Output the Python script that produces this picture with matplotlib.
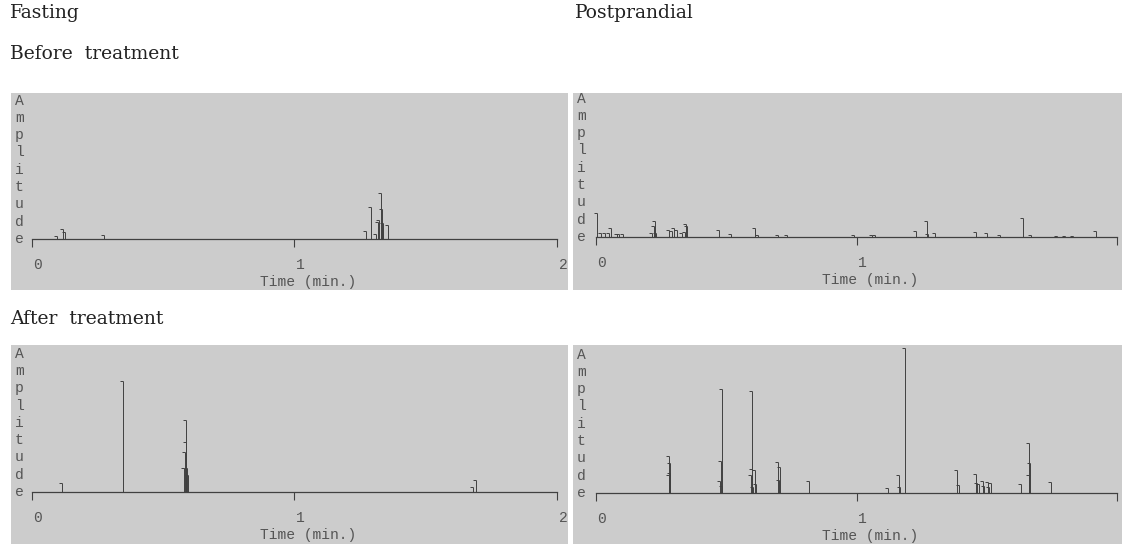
# chromatogram-style peak plots: fasting / postprandial, before / after treatment
import matplotlib
matplotlib.use("Agg")
import matplotlib.pyplot as plt

# peak times (min) and amplitudes (arbitrary units, A-label ~ 96)
fast_before_t = [0.095, 0.118, 0.125, 0.275, 1.272, 1.291, 1.310, 1.318, 1.322, 1.330, 1.333, 1.336, 1.357]
fast_before_h = [2.4, 7.0, 4.7, 3.0, 5.4, 22, 3.5, 12, 13, 32, 21, 11, 9.4]

post_before_t = [0.003, 0.02, 0.035, 0.05, 0.058, 0.08, 0.09, 0.105, 0.215, 0.222, 0.227, 0.232,
                 0.28, 0.29, 0.30, 0.31, 0.33, 0.34, 0.345, 0.35, 0.473, 0.52, 0.612, 0.62,
                 0.70, 0.735, 0.99, 1.06, 1.07, 1.23, 1.27, 1.275, 1.30, 1.46, 1.50, 1.55,
                 1.64, 1.67, 1.77, 1.80, 1.83, 1.92]
post_before_h = [17, 2.5, 3.0, 2.8, 6.4, 2.0, 2.2, 1.8, 3.0, 7.6, 11, 3.0,
                 5.2, 4.0, 6.0, 5.2, 3.0, 3.5, 8.8, 7.5, 5.2, 2.0, 6.0, 1.5,
                 1.2, 1.2, 1.2, 1.5, 1.5, 4.0, 11, 2.0, 3.0, 3.5, 3.0, 1.7,
                 13.5, 1.2, 1.0, 1.0, 1.0, 4.0]

fast_after_t = [0.116, 0.345, 0.578, 0.582, 0.585, 0.588, 0.590, 0.593, 1.68, 1.69]
fast_after_h = [6.5, 77, 17, 28, 50, 35, 17, 12, 3.5, 8]

post_after_t = [0.279, 0.281, 0.283, 0.285, 0.476, 0.480, 0.482, 0.484, 0.594, 0.598, 0.600,
                0.602, 0.610, 0.614, 0.697, 0.702, 0.708, 0.818, 1.12, 1.165, 1.167, 1.187,
                1.386, 1.395, 1.457, 1.463, 1.470, 1.484, 1.490, 1.504, 1.510, 1.518,
                1.633, 1.662, 1.664, 1.666, 1.745]
post_after_h = [12.5, 25.5, 21, 14, 8, 22, 72, 5, 12.5, 17, 70.5,
                4, 16, 6, 21.5, 9, 18.4, 8.3, 3.8, 12.5, 4.3, 101,
                16, 5.4, 13, 7, 6, 8.3, 5, 7.8, 4, 7,
                6.1, 12.5, 35, 21, 7.8]

tick_vals = [0, 1, 2]
amp_letters = list("Amplitude")

W, H = 1122, 544
PX_PER_UNIT = 1.44
BG = "#cccccc"
INK = "#404040"
LBL = "#555555"
MONO = "Liberation Mono"

fig = plt.figure(figsize=(W / 100, H / 100), dpi=100)


def panel(box, zero_px, two_px, base_px, times, heights, labels):
    x0, y0, x1, y1 = box
    ax = fig.add_axes([x0 / W, 1 - y1 / H, (x1 - x0) / W, (y1 - y0) / H])
    ax.set_facecolor(BG)
    k = 2.0 / (two_px - zero_px)
    ax.set_xlim(-(zero_px - x0) * k, 2 + (x1 - two_px) * k)
    ax.set_ylim(-(y1 - base_px) / PX_PER_UNIT, (base_px - y0) / PX_PER_UNIT)
    for s in ["top", "right", "left"]:
        ax.spines[s].set_visible(False)
    ax.spines["bottom"].set_position(("data", 0))
    ax.spines["bottom"].set_bounds(0, 2)
    ax.spines["bottom"].set_color(INK)
    ax.spines["bottom"].set_linewidth(0.9)
    ax.set_xticks(tick_vals)
    ax.set_xticklabels([])
    ax.set_yticks([])
    ax.tick_params(axis="x", length=6, width=0.8, color=INK, direction="out")

    # peaks
    ax.vlines(times, 0, heights, color=INK, lw=0.7)
    ax.plot(times, heights, ls="none", marker=0, ms=2.5, mew=0.7, color=INK)

    # tick labels, shifted a little right like the instrument print-out
    for v, lab in zip(tick_vals, labels):
        ax.annotate(lab, xy=(v, 0), xytext=(6, -26), textcoords="offset pixels",
                    ha="center", va="center", fontsize=10.5, family=MONO, color=LBL,
                    annotation_clip=False)
    ax.annotate("Time (min.)", xy=(1, 0), xytext=(14, -43), textcoords="offset pixels",
                ha="center", va="center", fontsize=10.5, family=MONO, color=LBL,
                annotation_clip=False)

    # stacked "Amplitude" letters
    trans = ax.get_yaxis_transform()
    xa = 4.0 / (x1 - x0)
    step = 17.3 / PX_PER_UNIT
    for i, ch in enumerate(amp_letters):
        ax.text(xa, (len(amp_letters) - 1 - i) * step, ch, transform=trans,
                ha="left", va="center", fontsize=10.5, family=MONO, color=LBL)
    return ax


left_labels = ["0", "1", "2"]
right_labels = ["0", "1", ""]   # the "2" falls off the right edge in the original

panel((11, 93, 568, 290), 32, 557, 239, fast_before_t, fast_before_h, left_labels)
panel((573, 93, 1122, 290), 596, 1117, 237, post_before_t, post_before_h, right_labels)
panel((11, 345, 568, 544), 32, 557, 492, fast_after_t, fast_after_h, left_labels)
panel((573, 345, 1122, 544), 596, 1117, 493, post_after_t, post_after_h, right_labels)

SERIF = "DejaVu Serif"
for txt, x, y in [("Fasting", 10, 13), ("Postprandial", 575, 13),
                  ("Before  treatment", 10, 54), ("After  treatment", 10, 319)]:
    fig.text(x / W, 1 - y / H, txt, ha="left", va="center", fontsize=13.5,
             family=SERIF, color="#222222")

fig.savefig("out.png", dpi=100)
